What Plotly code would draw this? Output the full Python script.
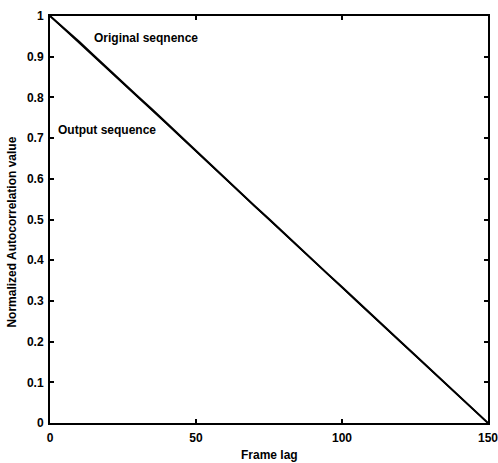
import plotly.graph_objects as go

# Frame lags and normalized autocorrelation values
frame_lag = [0, 5, 10, 15, 20, 25, 30, 35, 40, 45, 50, 55, 60, 65, 70, 75,
             80, 85, 90, 95, 100, 105, 110, 115, 120, 125, 130, 135, 140, 145, 150]
original_seq = [1.000, 0.969, 0.937, 0.903, 0.869, 0.837, 0.803, 0.770, 0.736, 0.702,
                0.669, 0.635, 0.601, 0.568, 0.534, 0.501, 0.467, 0.434, 0.401, 0.367,
                0.334, 0.300, 0.267, 0.233, 0.200, 0.167, 0.134, 0.100, 0.067, 0.034, 0.000]
output_seq = [1.000, 0.967, 0.935, 0.902, 0.868, 0.835, 0.802, 0.768, 0.735, 0.701,
              0.668, 0.634, 0.600, 0.567, 0.533, 0.500, 0.466, 0.433, 0.400, 0.366,
              0.333, 0.299, 0.266, 0.232, 0.199, 0.166, 0.133, 0.099, 0.066, 0.033, 0.000]

x_ticks = [0, 50, 100, 150]
y_ticks = [0, 0.1, 0.2, 0.3, 0.4, 0.5, 0.6, 0.7, 0.8, 0.9, 1]
y_tick_text = ["0", "0.1", "0.2", "0.3", "0.4", "0.5", "0.6", "0.7", "0.8", "0.9", "1"]

FONT = "Liberation Sans, Arial, sans-serif"

fig = go.Figure()
fig.add_trace(go.Scatter(x=frame_lag, y=original_seq, mode="lines",
                         line=dict(color="black", width=2), name="Original seqnence"))
fig.add_trace(go.Scatter(x=frame_lag, y=output_seq, mode="lines",
                         line=dict(color="black", width=1.5), name="Output sequence"))

axis_common = dict(
    showgrid=False, zeroline=False, showline=True, linecolor="black", linewidth=2,
    mirror="ticks", ticks="inside", ticklen=4, tickwidth=1.5, tickcolor="black",
    automargin=False, ticklabeloverflow="allow",
    tickfont=dict(family=FONT, size=12, color="black", weight="bold"),
)

fig.update_xaxes(range=[0, 150], tickvals=x_ticks, ticktext=[str(v) for v in x_ticks],
                 ticklabelstandoff=3, **axis_common)
fig.update_yaxes(range=[0, 1], tickvals=y_ticks, ticktext=y_tick_text,
                 ticklabelstandoff=2, **axis_common)

fig.update_layout(
    width=498, height=463, autosize=False,
    margin=dict(l=50, r=10, t=16, b=40),
    paper_bgcolor="white", plot_bgcolor="white",
    showlegend=False,
    annotations=[
        dict(x=33, y=0.947, xref="x", yref="y", text="Original seqnence", showarrow=False,
             font=dict(family=FONT, size=12, color="black", weight="bold")),
        dict(x=19.5, y=0.72, xref="x", yref="y", text="Output sequence", showarrow=False,
             font=dict(family=FONT, size=12, color="black", weight="bold")),
        dict(x=0.5, y=-0.079, xref="paper", yref="paper", text="Frame lag", showarrow=False,
             xanchor="center", yanchor="middle",
             font=dict(family=FONT, size=12, color="black", weight="bold")),
        dict(x=-0.087, y=0.47, xref="paper", yref="paper", text="Normalized Autocorrelation value",
             showarrow=False, textangle=-90, xanchor="center", yanchor="middle",
             font=dict(family=FONT, size=12, color="black", weight="bold")),
    ],
)

fig.write_html("out.html")
